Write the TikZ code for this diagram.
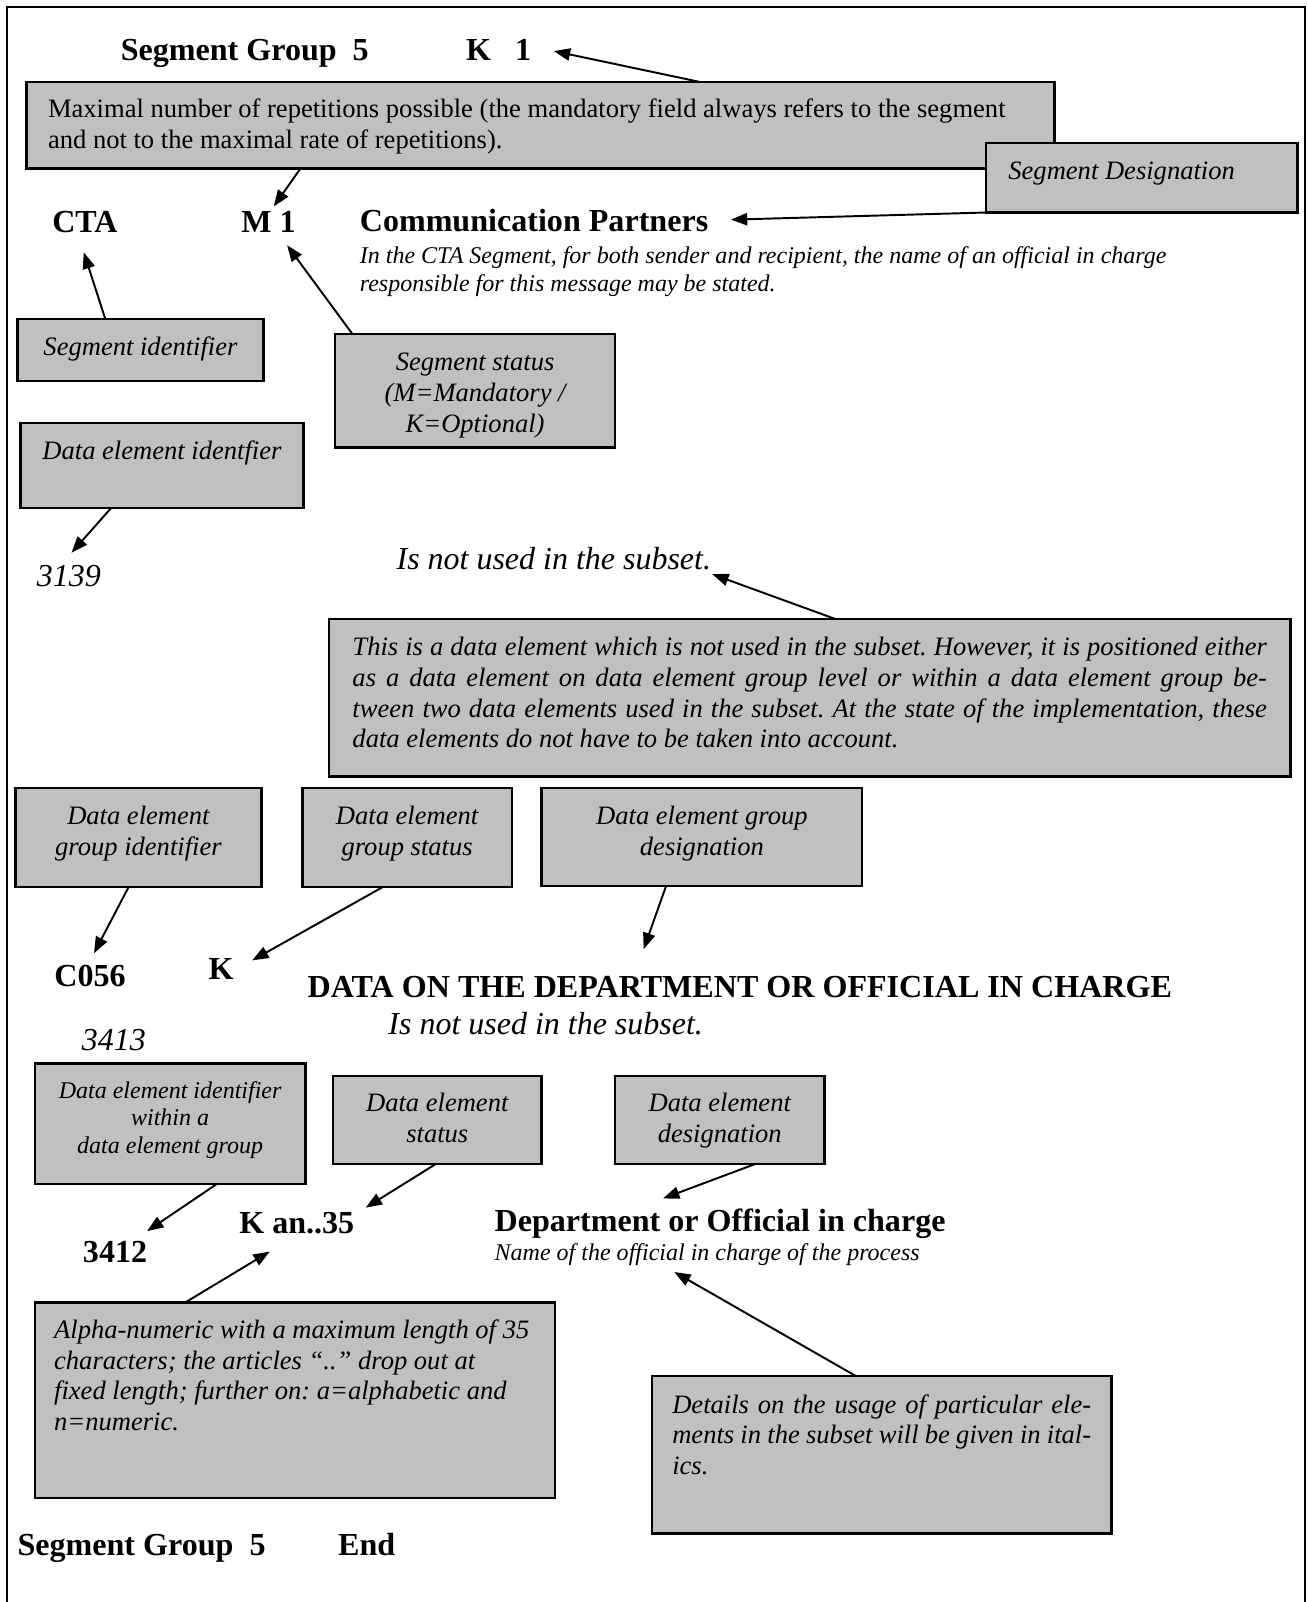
\documentclass[tikz,border=0pt]{standalone}
\usepackage{fontspec}
\setmainfont{Liberation Serif}
\usepackage{tikz}
\usetikzlibrary{arrows.meta}
\definecolor{boxgray}{RGB}{192,192,192}
\newcommand{\hdfnt}{\fontsize{31.4pt}{36pt}\selectfont\bfseries}
\newcommand{\bigitfnt}{\fontsize{31.3pt}{36pt}\selectfont\itshape}
\newcommand{\bxfnt}{\fontsize{26pt}{30pt}\selectfont}
\newcommand{\smitfnt}{\fontsize{23.5pt}{27pt}\selectfont\itshape}

\begin{document}
\frenchspacing
\begin{tikzpicture}[
  x=1pt, y=-1pt,
  plainspace/.style={execute at begin node={\spaceskip=.25em\xspaceskip=.25em\relax}},
  boxbase/.style={draw, fill=boxgray, line width=2.3pt, anchor=north west, inner ysep=0pt, inner xsep=10pt, outer sep=0pt, font=\bxfnt\itshape},
  note/.style={boxbase, align=center, plainspace},
  jnote/.style={boxbase, align=justify},
  head/.style={anchor=base west, inner sep=0pt, font=\hdfnt},
  numit/.style={anchor=base west, inner sep=0pt, font=\bigitfnt},
  arrow/.style={-{Triangle[length=16pt,width=12pt]}, line width=1.9pt}
]
\useasboundingbox (0,0) rectangle (1280,1568);
\draw[line width=2.3pt] (7,1568) -- (7,7) -- (1277,7) -- (1277,1568);

\node[head] (sgtop) at (118,59) {Segment Group\ \ 5};
\node[head] (kone) at (456,59) {K\ \ \ 1};
\node[note, font=\bxfnt, text width=964pt, inner xsep=21pt, align=left, text height=35pt, text depth=50pt] (maxrep) at (26,80)
  {Maximal number of repetitions possible (the mandatory field always refers to the segment\\and not to the maximal rate of repetitions).};
\node[note, text width=261pt, inner xsep=22pt, align=left, text height=36pt, text depth=32pt] (segdes) at (965,140) {Segment Designation};

\node[head] (cta) at (51,228) {CTA};
\node[head] (mone) at (236,228) {M 1};
\node[head] (commp) at (352,227) {Communication Partners};
\node[anchor=base west, inner sep=0pt, font=\smitfnt, text width=900pt, align=left, plainspace] (ctadesc) at (352,258)
  {In the CTA Segment, for both sender and recipient, the name of an official in charge\\responsible for this message may be stated.};

\node[note, text width=221pt, text height=36pt, text depth=25pt] (segid) at (17,312) {Segment identifier};
\node[note, text width=254pt, text height=36pt, text depth=75pt] (segstat) at (328,327) {Segment status\\(M=Mandatory /\\K=Optional)};
\node[note, text width=257pt, text height=36pt, text depth=47pt] (deid) at (20,414) {Data element identfier};

\node[numit] (n3139) at (36,574) {3139};
\node[numit] (isnot1) at (388,557) {Is not used in the subset.};
\node[jnote, text width=895pt, inner xsep=23pt, text height=36pt, text depth=118pt] (notused) at (322,606)
  {This is a data element which is not used in the subset. However, it is positioned either\linebreak
   as a data element on data element group level or within a data element group be-\linebreak
   tween two data elements used in the subset. At the state of the implementation, these\linebreak
   data elements do not have to be taken into account.};

\node[note, text width=221pt, text height=36pt, text depth=61pt] (degid) at (15,771) {Data element\\group identifier};
\node[note, text width=185pt, text height=36pt, text depth=61pt] (degstat) at (296,771) {Data element\\group status};
\node[note, text width=294pt, text height=36pt, text depth=60pt] (degdes) at (530,771) {Data element group\\designation};

\node[head] (c056) at (53,966) {C056};
\node[head] (kgrp) at (204,959) {K};
\node[head] (dataon) at (301,976) {DATA ON THE DEPARTMENT OR OFFICIAL IN CHARGE};
\node[numit] (isnot2) at (380,1013) {Is not used in the subset.};
\node[numit] (n3413) at (80,1028) {3413};

\node[note, font=\smitfnt, text width=245pt, text height=34pt, text depth=84pt] (deidgrp) at (34,1041) {Data element identifier\\within a\\data element group};
\node[note, text width=184pt, text height=35pt, text depth=51pt] (destat) at (326,1053) {Data element\\status};
\node[note, text width=185pt, text height=35pt, text depth=51pt] (dedes) at (602,1053) {Data element\\designation};

\node[head] (n3412) at (81,1236) {3412};
\node[head] (kan) at (234,1207) {K an..35};
\node[head] (dept) at (484,1205) {Department or Official in charge};
\node[anchor=base west, inner sep=0pt, font=\smitfnt] (deptdesc) at (484,1234) {Name of the official in charge of the process};

\node[note, text width=471pt, inner xsep=19pt, align=left, text height=35pt, text depth=156pt] (alpha) at (34,1275)
  {Alpha-numeric with a maximum length of 35\\characters; the articles “..” drop out at\\fixed length; further on: a=alphabetic and\\n=numeric.};
\node[jnote, text width=410pt, inner xsep=20pt, text height=36pt, text depth=118pt] (details) at (638,1347)
  {Details on the usage of particular ele-\linebreak ments in the subset will be given in ital-\linebreak ics.};

\node[head] (sgend) at (17,1522) {Segment Group\ \ 5\hspace*{71pt}End};

\draw[arrow] ([xshift=658pt]maxrep.north west) -- ([xshift=22pt,yshift=9pt]kone.base east);
\draw[arrow] ([xshift=268pt]maxrep.south west) -- ([xshift=32pt,yshift=26pt]mone.base west);
\draw[arrow] (segdes.south west) -- ([xshift=22pt,yshift=12pt]commp.base east);
\draw[arrow] ([xshift=86pt]segid.north west) -- ([xshift=31pt,yshift=-19pt]cta.base west);
\draw[arrow] ([xshift=17pt]segstat.north west) -- ([xshift=45pt,yshift=-12pt]mone.base west);
\draw[arrow] ([xshift=89pt]deid.south west) -- ([xshift=34pt,yshift=33pt]n3139.base west);
\draw[arrow] ([xshift=496pt]notused.north west) -- ([xshift=1pt,yshift=-5pt]isnot1.base east);
\draw[arrow] ([xshift=111pt]degid.south west) -- ([xshift=39pt,yshift=33pt]c056.base west);
\draw[arrow] ([xshift=79pt]degstat.south west) -- ([xshift=18pt,yshift=19pt]kgrp.base east);
\draw[arrow] ([xshift=122pt]degdes.south west) -- ([xshift=329pt,yshift=47pt]dataon.base west);
\draw[arrow] ([xshift=178pt]deidgrp.south west) -- ([xshift=63pt,yshift=31pt]n3412.base west);
\draw[arrow] ([xshift=101pt]destat.south west) -- ([xshift=11pt,yshift=25pt]kan.base east);
\draw[arrow] ([xshift=138pt]dedes.south west) -- ([xshift=165pt,yshift=32pt]dept.base west);
\draw[arrow] ([xshift=147pt]alpha.north west) -- ([xshift=30pt,yshift=-18pt]kan.base west);
\draw[arrow] ([xshift=200pt]details.north west) -- ([xshift=176pt,yshift=-11pt]deptdesc.base west);
\end{tikzpicture}
\end{document}
